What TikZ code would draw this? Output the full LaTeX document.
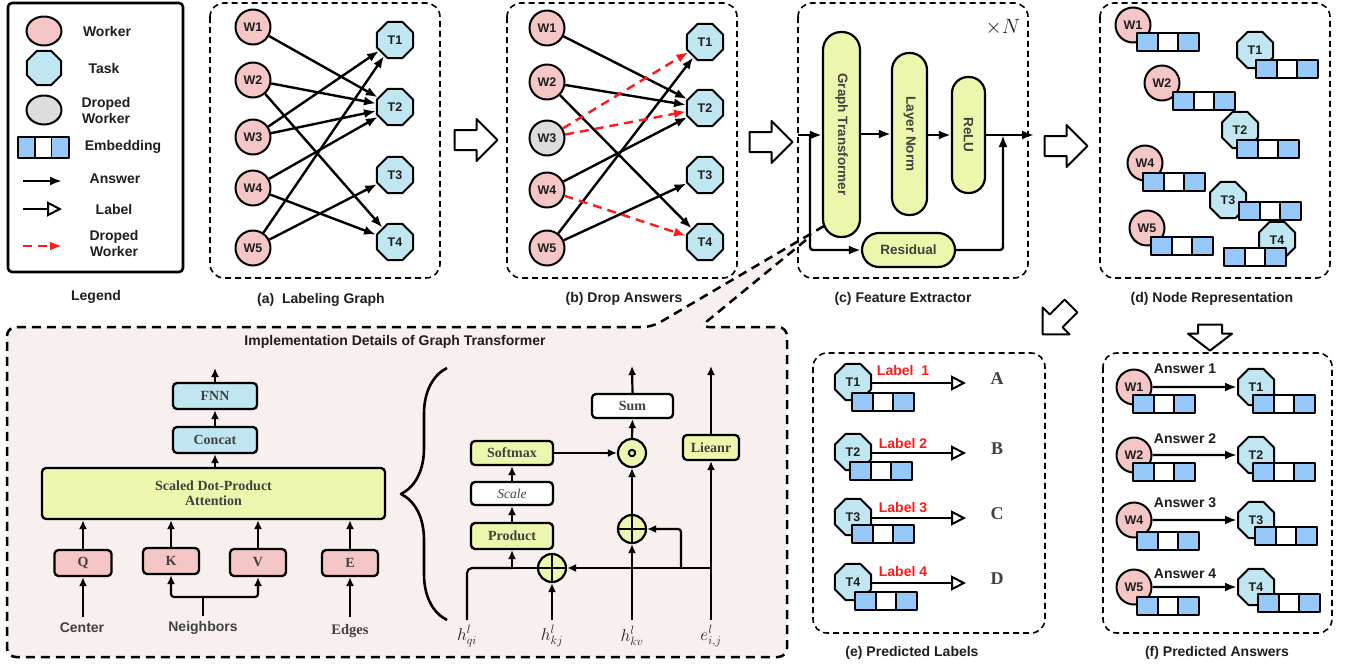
\documentclass[tikz,border=0pt]{standalone}
\usepackage{fontspec}
\setmainfont{Liberation Sans}
\newfontfamily\seriffont{Liberation Serif}
\usepackage{graphicx}
\usetikzlibrary{shapes.geometric,shapes.arrows,arrows.meta,decorations.pathreplacing}
\definecolor{wpink}{RGB}{245,198,198}
\definecolor{tblue}{RGB}{192,230,242}
\definecolor{dgray}{RGB}{221,221,221}
\definecolor{eblue}{RGB}{150,200,250}
\definecolor{ylw}{RGB}{236,246,172}
\definecolor{bgpink}{RGB}{248,239,239}
\definecolor{lred}{RGB}{255,25,25}
\definecolor{txt}{RGB}{30,30,30}
\definecolor{gtxt}{RGB}{65,65,65}
\tikzset{
 f12/.style={font=\fontsize{12.5}{14}\selectfont\bfseries},
 f13/.style={font=\fontsize{13.5}{15}\selectfont\bfseries},
 f14/.style={font=\fontsize{14}{16}\selectfont\bfseries},
 worker/.style={circle,draw,line width=2pt,fill=wpink,minimum size=35pt,inner sep=0pt,f12,text=txt},
 task/.style={regular polygon,regular polygon sides=8,draw,line width=2pt,fill=tblue,minimum size=39pt,inner sep=0pt,f12,text=txt},
 dropw/.style={worker,fill=dgray},
 lbl/.style={f14,text=txt,align=center,inner sep=1pt},
 captxt/.style={f14,text=txt,inner sep=1pt},
 panel/.style={draw,line width=1.6pt,dash pattern=on 6pt off 4pt,rounded corners=14pt},
 bigdash/.style={draw,line width=2.5pt,dash pattern=on 9pt off 6pt},
 ans/.style={line width=2.4pt,-{Latex[length=12pt,width=9pt]}},
 ans2/.style={line width=2.2pt,-{Latex[length=9pt,width=8pt]}},
 drop/.style={ans,draw=lred,dash pattern=on 9pt off 6pt},
 lab/.style={line width=2.2pt,-{Triangle[open,length=15pt,width=15pt,line width=2pt]}},
 bigarr/.style={single arrow,draw,line width=2pt,fill=white,inner xsep=0pt,inner ysep=9pt,minimum height=43pt,single arrow head extend=11pt,single arrow tip angle=90},
 pill/.style={draw,line width=2.2pt,fill=ylw,f13,text=gtxt,inner sep=0pt},
 bx/.style={draw,line width=2.3pt,rounded corners=4pt,inner sep=0pt,align=center,font=\seriffont\fontsize{14}{15}\selectfont\bfseries,text=gtxt},
 oplus/.style={circle,draw,line width=2.2pt,fill=ylw,minimum size=28pt,inner sep=0pt,
   path picture={\draw[line width=2pt] (path picture bounding box.north) -- (path picture bounding box.south) (path picture bounding box.west) -- (path picture bounding box.east);}},
 odot/.style={circle,draw,line width=2.2pt,fill=ylw,minimum size=28pt,inner sep=0pt,
   path picture={\draw[line width=2pt] (path picture bounding box.center) circle[radius=3.2pt];}},
 mlab/.style={font=\fontsize{17}{19}\selectfont,text=txt,inner sep=0pt},
 emb/.pic={
  \filldraw[line width=1.6pt,fill=eblue] (0,0) rectangle (21,18);
  \filldraw[line width=1.6pt,fill=white] (21,0) rectangle (41,18);
  \filldraw[line width=1.6pt,fill=eblue] (41,0) rectangle (62,18);}
}
\begin{document}
\begin{tikzpicture}[x=1pt,y=-1pt,line join=round]
\useasboundingbox (0,0) rectangle (1348,664);
\fill[white] (0,0) rectangle (1348,664);

% ---------- callout and implementation box ----------
\fill[bgpink] (824,226) -- (652,328) -- (700,328) -- (806,240) -- cycle;
\fill[bgpink,rounded corners=9pt] (7,327) rectangle (787,657);
\draw[bigdash,rounded corners=9pt] (824,226) -- (652,327) -- (7,327) -- (7,657) -- (787,657) -- (787,327) -- (700,327) -- (806,240);

% ---------- legend ----------
\draw[line width=2.6pt,rounded corners=4pt] (8,3) rectangle (183,272);
\node[worker,ellipse,minimum width=35pt,minimum height=29pt] (lw) at (44,31) {};
\node[lbl] (lwt) at (107,31) {Worker};
\node[task,minimum size=37pt] (lt) at (44,68) {};
\node[lbl] (ltt) at (104,68) {Task};
\node[dropw,ellipse,minimum width=35pt,minimum height=29pt] (ld) at (44,110) {};
\node[lbl] (ldt) at (106,110) {Droped\\Worker};
\pic[xscale=0.82,yscale=1.17] at (18,137) {emb};
\node[lbl] (let) at (123,147) {Embedding};
\coordinate (la1) at (23,181); \coordinate (la2) at (62,181);
\draw[ans] (la1) -- (la2);
\node[lbl] (lat) at (115,179) {Answer};
\coordinate (lb1) at (23,209); \coordinate (lb2) at (62,209);
\draw[lab] (lb1) -- (lb2);
\node[lbl] (lbt) at (114,209) {Label};
\coordinate (lc1) at (23,246); \coordinate (lc2) at (62,246);
\draw[drop] (lc1) -- (lc2);
\node[lbl] (lct) at (114,243) {Droped\\Worker};
\node[captxt] (lcap) at (96,297) {Legend};

% ---------- panel a ----------
\draw[panel] (210,3) rectangle (440,278);
\node[worker] (aW1) at (253,27) {W1};
\node[worker] (aW2) at (253,80) {W2};
\node[worker] (aW3) at (253,137) {W3};
\node[worker] (aW4) at (253,188) {W4};
\node[worker] (aW5) at (253,248) {W5};
\node[task] (aT1) at (395,40) {T1};
\node[task] (aT2) at (395,107) {T2};
\node[task] (aT3) at (395,175) {T3};
\node[task] (aT4) at (395,242) {T4};
\foreach \s/\t in {1/2,2/2,2/4,3/1,3/2,4/2,4/4,5/1,5/3}
  \draw[ans] (aW\s) -- (aT\t);
\node[captxt] (acap) at (321,300) {(a)\ \ Labeling Graph};
\node[bigarr] (ab) at (471,140) {};

% ---------- panel b ----------
\draw[panel] (507,3) rectangle (737,278);
\node[worker] (bW1) at (547,28) {W1};
\node[worker] (bW2) at (547,82) {W2};
\node[dropw] (bW3) at (547,138) {W3};
\node[worker] (bW4) at (547,190) {W4};
\node[worker] (bW5) at (547,248) {W5};
\node[task] (bT1) at (705,42) {T1};
\node[task] (bT2) at (705,108) {T2};
\node[task] (bT3) at (705,175) {T3};
\node[task] (bT4) at (705,242) {T4};
\foreach \s/\t in {1/2,2/2,2/4,4/2,5/1,5/3}
  \draw[ans] (bW\s) -- (bT\t);
\foreach \s/\t in {3/1,3/2,4/4}
  \draw[drop] (bW\s) -- (bT\t);
\node[captxt] (bcap) at (624,299) {(b) Drop Answers};
\node[bigarr] (bc) at (766,142) {};

% ---------- panel c ----------
\draw[panel] (798,3) rectangle (1028,278);
\node[font=\fontsize{21}{23}\selectfont,text=txt] (xn) at (1003,27) {$\times N$};
\node[pill,minimum width=37pt,minimum height=205pt,rounded corners=18pt] (GT) at (841.5,134.5) {\rotatebox{-90}{Graph Transformer}};
\node[pill,minimum width=35pt,minimum height=162pt,rounded corners=17pt] (LN) at (909.5,134) {\rotatebox{-90}{Layer Norm}};
\node[pill,minimum width=33pt,minimum height=116pt,rounded corners=16pt] (RL) at (968.5,135) {\rotatebox{-90}{ReLU}};
\node[pill,minimum width=93pt,minimum height=34pt,rounded corners=17pt] (Res) at (908.5,250) {Residual};
\coordinate (cin) at (798,135);
\coordinate (cbr) at (810,135);
\coordinate (cjn) at (1003,135);
\coordinate (cout) at (1034,135);
\draw[ans] (cin) -- (cin -| GT.west);
\draw[ans] (GT.east |- LN) -- (LN.west);
\draw[ans] (LN.east |- RL) -- (RL.west);
\draw[ans] (RL.east) -- (cout);
\draw[ans,rounded corners=3pt] (cbr) |- (Res.west);
\draw[ans,rounded corners=3pt] (Res.east) -| (cjn);
\node[captxt] (ccap) at (903,299) {(c) Feature Extractor};
\node[bigarr] (cd) at (1061,146) {};

% ---------- panel d ----------
\draw[panel] (1100,3) rectangle (1330,278);
\node[worker] (dW1) at (1133,25) {W1};
\node[task] (dT1) at (1255,50) {T1};
\node[worker] (dW2) at (1162,83) {W2};
\node[task] (dT2) at (1240,130) {T2};
\node[worker] (dW4) at (1145,163) {W4};
\node[task] (dT3) at (1228,200) {T3};
\node[worker] (dW5) at (1147,228) {W5};
\node[task] (dT4) at (1277,240) {T4};
\pic at (1137,33) {emb};
\pic at (1256,60) {emb};
\pic at (1173,92) {emb};
\pic at (1237,140) {emb};
\pic at (1143,173) {emb};
\pic at (1239,202) {emb};
\pic at (1151,237) {emb};
\pic at (1224,248) {emb};
\node[captxt] (dcap) at (1212,299) {(d) Node Representation};
\node[bigarr,rotate=-90,minimum height=26pt,inner ysep=11pt,single arrow head extend=10pt,single arrow tip angle=105] (df) at (1210,333) {};
\node[bigarr,rotate=-135,minimum height=40pt,inner ysep=8pt,single arrow head extend=10pt] (ce) at (1060,317) {};

% ---------- panel e ----------
\draw[panel] (813,353) rectangle (1045,633);
\foreach \i/\y/\ex/\ey/\L in {1/382/852/393/A,2/452/850/462/B,3/517/852/525/C,4/582/855/592/D}{
  \node[task] (eT\i) at (853,\y) {T\i};
  \pic at (\ex,\ey) {emb};
  \coordinate (eA\i) at (966,\y+1);
  \draw[lab] (eT\i.east |- eA\i) -- (eA\i);
  \node[font=\seriffont\fontsize{18}{20}\selectfont\bfseries,text=gtxt] (eL\i) at (997,\y-3) {\L};
}
\node[f14,text=lred] (el1) at (903,370) {Label\ \ 1};
\node[f14,text=lred] (el2) at (903,443) {Label 2};
\node[f14,text=lred] (el3) at (903,507) {Label 3};
\node[f14,text=lred] (el4) at (903,571) {Label 4};
\node[captxt] (ecap) at (912,653) {(e) Predicted Labels};

% ---------- panel f ----------
\draw[panel] (1103,353) rectangle (1332,633);
\foreach \i/\w/\t/\y/\wx/\wy/\tx/\ty/\ay in {1/1/1/387/1133/395/1253/395/369,2/2/2/455/1133/463/1253/463/439,3/4/3/520/1137/532/1255/527/503,4/5/4/587/1137/597/1258/594/574}{
  \node[worker] (fW\i) at (1134,\y) {W\w};
  \node[task] (fT\i) at (1256,\y) {T\t};
  \draw[ans] (fW\i) -- (fT\i);
  \pic at (\wx,\wy) {emb};
  \pic at (\tx,\ty) {emb};
  \node[lbl] (fa\i) at (1185,\ay) {Answer \i};
}
\node[captxt] (fcap) at (1217,653) {(f) Predicted Answers};

% ---------- implementation details ----------
\node[captxt] (ititle) at (395,342) {Implementation Details of Graph Transformer};
\node[bx,fill=tblue,minimum width=84pt,minimum height=26pt] (FNN) at (215,396) {FNN};
\node[bx,fill=tblue,minimum width=84pt,minimum height=26pt] (CC) at (215,440) {Concat};
\node[bx,fill=ylw,minimum width=343pt,minimum height=51pt] (ATT) at (213.5,493.5) {Scaled Dot-Product\\Attention};
\node[bx,fill=wpink,minimum width=57pt,minimum height=26pt] (Q) at (83,563) {Q};
\node[bx,fill=wpink,minimum width=56pt,minimum height=26pt] (K) at (171,561) {K};
\node[bx,fill=wpink,minimum width=56pt,minimum height=27pt] (V) at (258,562.5) {V};
\node[bx,fill=wpink,minimum width=56pt,minimum height=26pt] (E) at (350,563) {E};
\node[f14,text=gtxt] (lcen) at (82,628) {Center};
\node[f14,text=gtxt] (lnb) at (203,628) {Neighbors};
\node[font=\seriffont\fontsize{14.5}{16}\selectfont\bfseries,text=gtxt] (led) at (350,631) {Edges};
\coordinate (fout) at (215,368);
\coordinate (ccb) at (83,617);
\coordinate (nbb) at (203,616);
\coordinate (nbj) at (203,597);
\coordinate (edb) at (350,617);
\draw[ans2] (FNN.north) -- (fout);
\draw[ans2] (CC.north) -- (FNN.south);
\draw[ans2] (ATT.north -| CC) -- (CC.south);
\draw[ans2] (Q.north) -- (Q.north |- ATT.south);
\draw[ans2] (K.north) -- (K.north |- ATT.south);
\draw[ans2] (V.north) -- (V.north |- ATT.south);
\draw[ans2] (E.north) -- (E.north |- ATT.south);
\draw[ans2] (ccb) -- (Q.south);
\draw[ans2] (edb) -- (E.south);
\draw[line width=2.2pt] (nbb) -- (nbj);
\draw[ans2,rounded corners=3pt] (nbj) -| (K.south);
\draw[ans2,rounded corners=3pt] (nbj) -| (V.south);

\draw[line width=2.6pt,decorate,decoration={brace,amplitude=46pt}] (447,620) -- (447,368);

\node[bx,fill=white,minimum width=81pt,minimum height=24pt] (SUM) at (632.5,406) {Sum};
\node[bx,fill=ylw,minimum width=82pt,minimum height=24pt] (SM) at (512,453) {Softmax};
\node[bx,fill=white,minimum width=82pt,minimum height=23pt,font=\seriffont\fontsize{13.5}{15}\selectfont\itshape] (SC) at (512,493.5) {Scale};
\node[bx,fill=ylw,minimum width=82pt,minimum height=26pt] (PR) at (512,536) {Product};
\node[odot] (OD) at (632,453) {};
\node[oplus] (OPU) at (632,529) {};
\node[oplus] (OPL) at (552,568) {};
\node[bx,fill=ylw,minimum width=56pt,minimum height=25pt] (LIN) at (711,447.5) {Lieanr};
\node[mlab] (hq) at (467,636) {$h^l_{qi}$};
\node[mlab] (hk) at (552,636) {$h^l_{kj}$};
\node[mlab] (hv) at (632,636) {$h^l_{kv}$};
\node[mlab] (eij) at (711,636) {$e^l_{i,j}$};
\coordinate (hqb) at (467,620);
\coordinate (hkb) at (552,620);
\coordinate (hvb) at (632,620);
\coordinate (eb) at (711,620);
\coordinate (jq) at (512,568);
\coordinate (je) at (711,568);
\coordinate (jm) at (681,568);
\coordinate (lout) at (711,366);
\coordinate (sout) at (632,366);
\draw[line width=2.2pt,rounded corners=5pt] (hqb) |- (jq);
\draw[line width=2.2pt] (OPL.west) -- (jq);
\draw[ans2] (jq) -- (PR.south);
\draw[ans2] (PR.north) -- (SC.south);
\draw[ans2] (SC.north) -- (SM.south);
\draw[ans2] (SM.east) -- (OD.west);
\draw[ans2] (OD.north) -- (SUM.south);
\draw[ans2] (SUM.north) -- (sout);
\draw[ans2] (hkb) -- (OPL.south);
\draw[ans2] (hvb) -- (OPU.south);
\draw[ans2] (OPU.north) -- (OD.south);
\draw[ans2] (eb) -- (LIN.south);
\draw[ans2] (LIN.north) -- (lout);
\draw[ans2] (je) -- (OPL.east);
\draw[ans2,rounded corners=3pt] (jm) |- (OPU.east);
\end{tikzpicture}
\end{document}
